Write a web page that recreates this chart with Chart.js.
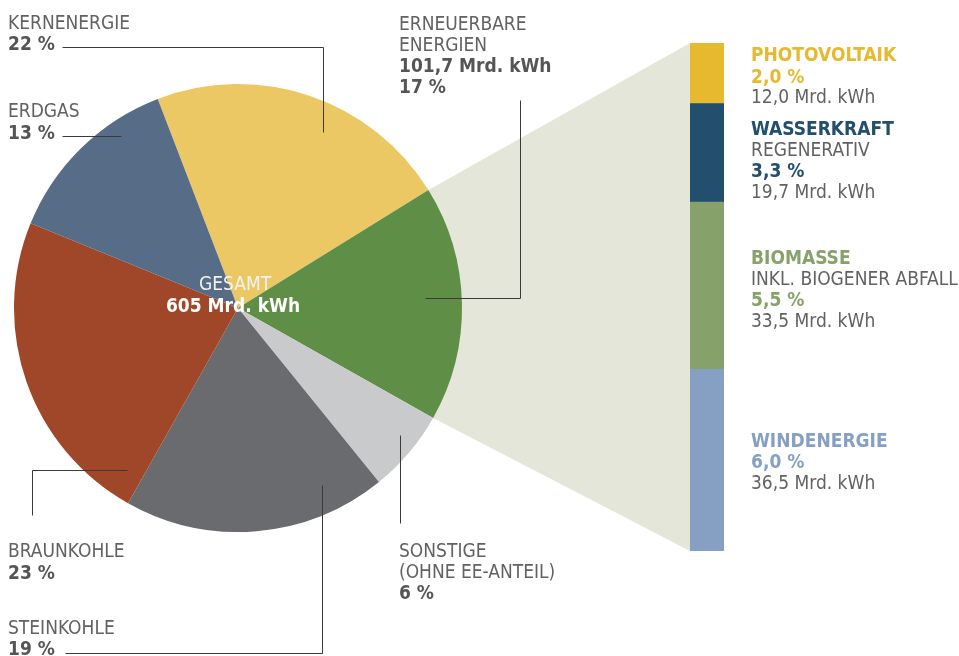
<!DOCTYPE html>
<html>
<head>
<meta charset="utf-8">
<script src="https://cdn.jsdelivr.net/npm/chart.js@4.4.1/dist/chart.umd.min.js"></script>
<style>
  html, body { margin: 0; padding: 0; background: #fff; }
  #wrap { position: relative; width: 959px; height: 656px; overflow: hidden; }
  #wrap canvas { position: absolute; left: 0; top: 0; }
</style>
</head>
<body>
<div id="wrap">
  <canvas id="pie" width="959" height="656"></canvas>
  <canvas id="ee" width="959" height="656"></canvas>
</div>
<script>
// Bruttostromerzeugung, Anteile in %
var pieLabels = ['KERNENERGIE', 'ERNEUERBARE ENERGIEN', 'SONSTIGE', 'STEINKOHLE', 'BRAUNKOHLE', 'ERDGAS'];
var pieShares = [22, 17, 6, 19, 23, 13];
var pieColors = ['#ecc865', '#5f8f47', '#c9cacc', '#6a6b6f', '#a0472a', '#566c87'];
var totalTWh = 605;

// Erneuerbare aufgeteilt
var eeLabels = ['PHOTOVOLTAIK', 'WASSERKRAFT', 'BIOMASSE', 'WINDENERGIE'];
var eeSubLabels = ['', 'REGENERATIV', 'INKL. BIOGENER ABFALL', ''];
var eeValues = [12.0, 19.7, 33.5, 36.5];
var eeShares = [2.0, 3.3, 5.5, 6.0];
var eeColors = ['#e6b92e', '#234f6e', '#86a16a', '#86a0c4'];
var eeTotal = 101.7;

var FONT = '"Liberation Sans Narrow", "DejaVu Sans Condensed", "Open Sans", sans-serif';
var GREY = '#626262';
var BOLDGREY = '#555555';

function de(n, d) { return n.toFixed(d).replace('.', ','); }

var eeChart = new Chart(document.getElementById('ee'), {
	type: 'bar',
	data: {
		labels: ['EE'],
		datasets: eeValues.map(function(v, i) {
			return {
				label: eeLabels[i],
				data: [v],
				backgroundColor: eeColors[i],
				borderWidth: 0,
				barPercentage: 1,
				categoryPercentage: 1
			};
		})
	},
	options: {
		responsive: false,
		animation: false,
		layout: { padding: { left: 690, right: 235, top: 43, bottom: 105 } },
		plugins: { legend: { display: false }, tooltip: { enabled: false } },
		scales: {
			x: { display: false, stacked: true },
			y: { display: false, stacked: true, reverse: true, min: 0, max: eeTotal }
		}
	}
});

// leader lines: slice, position inside slice (angle fraction, radius fraction), label end, direction
var leaders = [
	{ i: 0, a: 0.59, r: 0.87, from: [62, 47], dir: 'h' },
	{ i: 1, a: 0.47, r: 0.835, from: [520, 100], dir: 'v' },
	{ i: 2, a: 0.40, r: 0.92, from: [400, 523], dir: 'v' },
	{ i: 3, a: 0.20, r: 0.873, from: [65, 653], dir: 'h' },
	{ i: 4, a: 0.06, r: 0.877, from: [32, 515], dir: 'v' },
	{ i: 5, a: 0.72, r: 0.93, from: [62, 136], dir: 'h' }
];

// text blocks [x, baseline, text, bold, colour]
var texts = [
	[8, 29, pieLabels[0], false, GREY],
	[8, 50, pieShares[0] + ' %', true, BOLDGREY],
	[8, 117, pieLabels[5], false, GREY],
	[8, 139, pieShares[5] + ' %', true, BOLDGREY],
	[399, 30, 'ERNEUERBARE', false, GREY],
	[399, 51, 'ENERGIEN', false, GREY],
	[399, 72, de(eeTotal, 1) + ' Mrd. kWh', true, BOLDGREY],
	[399, 93, pieShares[1] + ' %', true, BOLDGREY],
	[8, 557, pieLabels[4], false, GREY],
	[8, 579, pieShares[4] + ' %', true, BOLDGREY],
	[8, 634, pieLabels[3], false, GREY],
	[8, 655, pieShares[3] + ' %', true, BOLDGREY],
	[399, 557, pieLabels[2], false, GREY],
	[399, 578, '(OHNE EE-ANTEIL)', false, GREY],
	[399, 599, pieShares[2] + ' %', true, BOLDGREY]
];
var eeTextY = [[61, null, 83, 103], [135, 156, 177, 198], [264, 285, 306, 327], [447, null, 468, 489]];
eeLabels.forEach(function(l, i) {
	var y = eeTextY[i];
	texts.push([751, y[0], l, true, eeColors[i]]);
	if (y[1]) texts.push([751, y[1], eeSubLabels[i], false, GREY]);
	texts.push([751, y[2], de(eeShares[i], 1) + ' %', true, eeColors[i]]);
	texts.push([751, y[3], de(eeValues[i], 1) + ' Mrd. kWh', false, GREY]);
});

var overlay = {
	id: 'overlay',
	beforeDatasetsDraw: function(chart) {
		// light band from the renewables slice to the stacked bar
		var arc = chart.getDatasetMeta(0).data[1];
		var bars = eeChart.getDatasetMeta(0).data[0];
		var ys = eeChart.scales.y;
		var bx = bars.x - bars.width / 2;
		var ctx = chart.ctx;
		ctx.save();
		ctx.fillStyle = '#e3e6d8';
		ctx.beginPath();
		ctx.moveTo(arc.x + arc.outerRadius * Math.cos(arc.startAngle), arc.y + arc.outerRadius * Math.sin(arc.startAngle));
		ctx.lineTo(bx, ys.getPixelForValue(0));
		ctx.lineTo(bx, ys.getPixelForValue(eeTotal));
		ctx.lineTo(arc.x + arc.outerRadius * Math.cos(arc.endAngle), arc.y + arc.outerRadius * Math.sin(arc.endAngle));
		ctx.closePath();
		ctx.fill();
		ctx.restore();
	},
	afterDatasetsDraw: function(chart) {
		var ctx = chart.ctx;
		var meta = chart.getDatasetMeta(0);
		ctx.save();
		ctx.strokeStyle = '#3a3a3a';
		ctx.lineWidth = 1;
		leaders.forEach(function(ld) {
			var arc = meta.data[ld.i];
			var ang = arc.startAngle + (arc.endAngle - arc.startAngle) * ld.a;
			var ax = Math.round(arc.x + arc.outerRadius * ld.r * Math.cos(ang)) + 0.5;
			var ay = Math.round(arc.y + arc.outerRadius * ld.r * Math.sin(ang)) + 0.5;
			var fx = ld.from[0] + 0.5, fy = ld.from[1] + 0.5;
			ctx.beginPath();
			ctx.moveTo(fx, fy);
			if (ld.dir === 'h') {
				ctx.lineTo(ax, fy);
				ctx.lineTo(ax, ay);
			} else {
				ctx.lineTo(fx, ay);
				ctx.lineTo(ax, ay);
			}
			ctx.stroke();
		});

		// total in the middle
		var c = meta.data[0];
		ctx.textAlign = 'center';
		ctx.fillStyle = '#f2f2f2';
		ctx.font = '19px ' + FONT;
		ctx.fillText('GESAMT', c.x - 3, 290);
		ctx.fillStyle = '#ffffff';
		ctx.font = 'bold 19px ' + FONT;
		ctx.fillText(totalTWh + ' Mrd. kWh', c.x - 5, 312);

		ctx.textAlign = 'left';
		texts.forEach(function(t) {
			ctx.font = (t[3] ? 'bold ' : '') + '19px ' + FONT;
			ctx.fillStyle = t[4];
			ctx.fillText(t[2], t[0], t[1]);
		});
		ctx.restore();
	}
};

new Chart(document.getElementById('pie'), {
	type: 'pie',
	data: {
		labels: pieLabels,
		datasets: [{
			data: pieShares,
			backgroundColor: pieColors,
			borderWidth: 0,
			hoverOffset: 0,
			offset: 0
		}]
	},
	options: {
		responsive: false,
		animation: false,
		rotation: -21,
		layout: { padding: { left: 14, right: 497, top: 84, bottom: 124 } },
		plugins: { legend: { display: false }, tooltip: { enabled: false } }
	},
	plugins: [overlay]
});
</script>
</body>
</html>
